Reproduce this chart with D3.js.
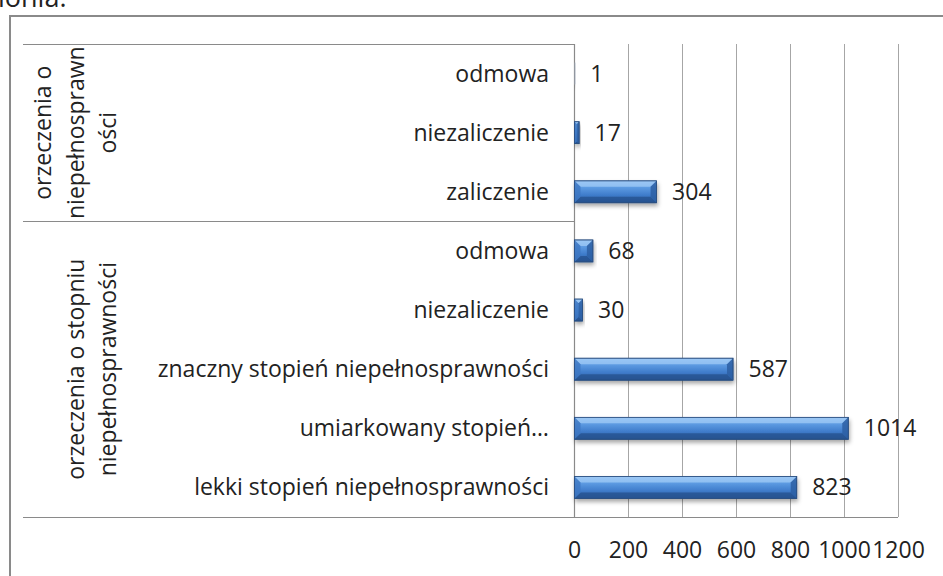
<!DOCTYPE html>
<html>
<head>
<meta charset="utf-8">
<script src="https://cdn.jsdelivr.net/npm/d3@7/dist/d3.min.js"></script>
<style>
	html, body { margin: 0; padding: 0; background: #fff; overflow: hidden; }
	text { font-family: "Open Sans", Lato, sans-serif; fill: #222; }
</style>
</head>
<body>
<script>
// data, top to bottom as drawn
var groups = ["orzeczenia o niepełnosprawności", "orzeczenia o stopniu niepełnosprawności"];
var groupLines = [["orzeczenia o", "niepełnosprawn", "ości"], ["orzeczenia o stopniu", "niepełnosprawności"]];
var categories = ["odmowa", "niezaliczenie", "zaliczenie",
	"odmowa", "niezaliczenie", "znaczny stopień niepełnosprawności", "umiarkowany stopień…", "lekki stopień niepełnosprawności"];
var categoryGroup = [0, 0, 0, 1, 1, 1, 1, 1];
var values = [1, 17, 304, 68, 30, 587, 1014, 823];
var ticks = [0, 200, 400, 600, 800, 1000, 1200];

var width = 943, height = 576;
var plotLeft = 574, plotRight = 898, plotTop = 44, plotBottom = 517;
var labelLeft = 23;
var fontSize = 23;

var svg = d3.select("body").append("svg")
	.attr("width", width)
	.attr("height", height);

var defs = svg.append("defs");
var grad = defs.append("linearGradient")
	.attr("id", "barGrad")
	.attr("x1", 0).attr("y1", 0).attr("x2", 0).attr("y2", 1);
grad.append("stop").attr("offset", "0%").attr("stop-color", "#8fc0f2");
grad.append("stop").attr("offset", "30%").attr("stop-color", "#5d9be2");
grad.append("stop").attr("offset", "65%").attr("stop-color", "#3f7ccb");
grad.append("stop").attr("offset", "100%").attr("stop-color", "#2c5e9f");

var shadow = defs.append("filter").attr("id", "shadow")
	.attr("x", "-10%").attr("y", "-30%").attr("width", "130%").attr("height", "180%");
shadow.append("feDropShadow")
	.attr("dx", 1).attr("dy", 3).attr("stdDeviation", 2)
	.attr("flood-color", "#000").attr("flood-opacity", 0.35);

// cut-off text of the document above the chart
svg.append("text")
	.attr("x", -2).attr("y", 7)
	.style("font-size", "27px")
	.text("ionia.");

// outer chart frame (runs off the right and bottom edges)
svg.append("rect")
	.attr("x", 10).attr("y", 16)
	.attr("width", 1000).attr("height", 700)
	.style("fill", "none")
	.style("stroke", "#8a8a8a")
	.style("stroke-width", 2);

var x = d3.scaleLinear()
	.domain([0, 1200])
	.range([plotLeft, plotRight]);

var ids = categories.map(function(c, i) { return i; });
var y = d3.scaleBand()
	.domain(ids)
	.range([plotTop, plotBottom])
	.paddingInner(0.63)
	.paddingOuter(0.315);

// vertical gridlines
svg.append("g")
	.selectAll("line")
	.data(ticks)
	.enter().append("line")
		.attr("x1", function(d) { return x(d) + 0.5; })
		.attr("x2", function(d) { return x(d) + 0.5; })
		.attr("y1", plotTop)
		.attr("y2", plotBottom)
		.style("stroke", "#a6a6a6")
		.style("stroke-width", 1);

// x axis labels
var xAxis = d3.axisBottom(x).tickValues(ticks).tickFormat(d3.format("d")).tickSize(0).tickPadding(0);
var gx = svg.append("g")
	.attr("transform", "translate(0," + plotBottom + ")")
	.call(xAxis);
gx.select(".domain").remove();
gx.selectAll("text")
	.attr("y", 33)
	.attr("dy", "0.35em")
	.style("font-size", fontSize + "px")
	.style("font-family", "'Open Sans', sans-serif")
	.style("fill", "#222");

// category axis: long separators between groups
var step = y.step();
var groupBounds = groups.map(function(g, gi) {
	var idx = ids.filter(function(i) { return categoryGroup[i] === gi; });
	var top = y(idx[0]) - y.paddingInner() * step / 2;
	var bottom = y(idx[idx.length - 1]) + y.bandwidth() + y.paddingInner() * step / 2;
	return { top: top, bottom: bottom, center: (top + bottom) / 2 };
});

var sepY = [plotTop, groupBounds[0].bottom, plotBottom];
svg.append("g")
	.selectAll("line")
	.data(sepY)
	.enter().append("line")
		.attr("x1", labelLeft)
		.attr("x2", function(d, i) { return i === 2 ? plotRight : plotLeft; })
		.attr("y1", function(d) { return Math.round(d) + 0.5; })
		.attr("y2", function(d) { return Math.round(d) + 0.5; })
		.style("stroke", "#8a8a8a")
		.style("stroke-width", 1.2);

svg.append("line")
	.attr("x1", plotLeft + 0.5).attr("x2", plotLeft + 0.5)
	.attr("y1", plotTop).attr("y2", plotBottom)
	.style("stroke", "#8a8a8a")
	.style("stroke-width", 1.2);

// category labels
svg.append("g")
	.selectAll("text")
	.data(ids)
	.enter().append("text")
		.attr("x", plotLeft - 25)
		.attr("y", function(i) { return y(i) + y.bandwidth() / 2; })
		.attr("dy", "0.35em")
		.attr("text-anchor", "end")
		.style("font-size", fontSize + "px")
		.text(function(i) { return categories[i]; });

// group labels, rotated, lines stacked to the left of the last one
var lineGap = 32.5, lastLineX = 108;
groupLines.forEach(function(lines, gi) {
	var t = svg.append("text")
		.attr("transform", "translate(0," + groupBounds[gi].center + ") rotate(-90)")
		.attr("text-anchor", "middle")
		.style("font-size", fontSize + "px");
	lines.forEach(function(line, li) {
		t.append("tspan")
			.attr("x", 0)
			.attr("y", lastLineX - (lines.length - 1 - li) * lineGap)
			.attr("dy", "0.35em")
			.text(line);
	});
});

// bars with bevelled edges
var bars = svg.append("g").selectAll("g.bar")
	.data(ids)
	.enter().append("g")
		.attr("class", "bar");

bars.each(function(i) {
	var g = d3.select(this);
	var x0 = x(0) + 0.5, x1 = x(values[i]) + 0.5;
	var y0 = y(i), y1 = y(i) + y.bandwidth();
	var w = x1 - x0, h = y1 - y0;
	var b = Math.min(6, h / 3, w / 2);

	g.append("rect")
		.attr("x", x0).attr("y", y0)
		.attr("width", Math.max(w, 0.8)).attr("height", h)
		.attr("filter", "url(#shadow)")
		.style("fill", w < 1 ? "#9aa6b5" : "url(#barGrad)")
		.style("stroke", w < 1 ? "none" : "#2b4f80")
		.style("stroke-width", 0.8);

	if (w < 2) return;

	var pts = function(p) { return p.map(function(q) { return q.join(","); }).join(" "); };
	// top facet
	g.append("polygon")
		.attr("points", pts([[x0, y0], [x1, y0], [x1 - b, y0 + b], [x0 + b, y0 + b]]))
		.style("fill", "#9fcaf5").style("opacity", 0.75);
	// bottom facet
	g.append("polygon")
		.attr("points", pts([[x0, y1], [x1, y1], [x1 - b, y1 - b], [x0 + b, y1 - b]]))
		.style("fill", "#244f8a").style("opacity", 0.7);
	// left facet
	g.append("polygon")
		.attr("points", pts([[x0, y0], [x0 + b, y0 + b], [x0 + b, y1 - b], [x0, y1]]))
		.style("fill", "#3d77c2").style("opacity", 0.8);
	// right facet
	g.append("polygon")
		.attr("points", pts([[x1, y0], [x1 - b, y0 + b], [x1 - b, y1 - b], [x1, y1]]))
		.style("fill", "#2d5fa3").style("opacity", 0.85);
	g.append("rect")
		.attr("x", x0).attr("y", y0)
		.attr("width", w).attr("height", h)
		.style("fill", "none")
		.style("stroke", "#2b4f80")
		.style("stroke-width", 0.8);
});

// value labels
svg.append("g")
	.selectAll("text")
	.data(ids)
	.enter().append("text")
		.attr("x", function(i) { return x(values[i]) + 16; })
		.attr("y", function(i) { return y(i) + y.bandwidth() / 2; })
		.attr("dy", "0.35em")
		.style("font-size", fontSize + "px")
		.text(function(i) { return values[i]; });
</script>
</body>
</html>
